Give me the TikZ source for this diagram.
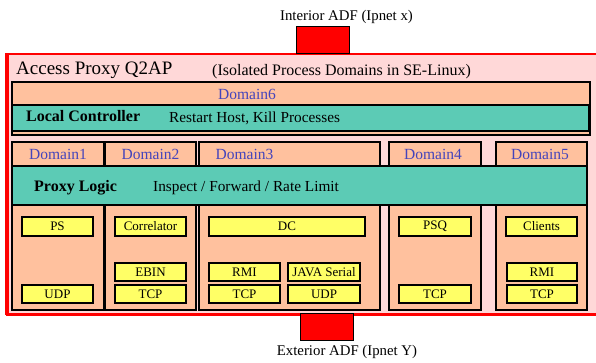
\documentclass[tikz,border=0pt]{standalone}
\usepackage{fontspec}
\setmainfont{Liberation Serif}
\definecolor{pinkbg}{HTML}{FFD8D8}
\definecolor{peach}{HTML}{FFC19E}
\definecolor{tealbar}{HTML}{5CCBB5}
\definecolor{yel}{HTML}{FFFF66}
\definecolor{dblue}{HTML}{4444BB}
\tikzset{
  framebox/.style={draw=black, line width=1.6pt, inner sep=0pt},
  domainbox/.style={framebox, fill=peach, minimum height=168pt},
  barbox/.style={framebox, fill=tealbar},
  modbox/.style={draw=black, line width=1.5pt, fill=yel, inner sep=0pt,
    minimum height=18pt, font=\fontsize{13}{13}\selectfont},
  adfbox/.style={draw=black, line width=1pt, fill=red, inner sep=0pt,
    minimum width=53pt, minimum height=27pt},
  domlabel/.style={anchor=base, text=dblue, inner sep=0pt,
    font=\fontsize{15.5}{15.5}\selectfont},
  bartitle/.style={anchor=base west, inner sep=0pt,
    font=\fontsize{16}{16}\selectfont\bfseries},
  bartext/.style={anchor=base west, inner sep=0pt,
    font=\fontsize{15.3}{15.3}\selectfont},
  caption/.style={anchor=base, inner sep=0pt,
    font=\fontsize{14.8}{14.8}\selectfont}
}
\begin{document}
\begin{tikzpicture}[x=1pt,y=-1pt]
\useasboundingbox (0,0) rectangle (596,362);
\clip (0,0) rectangle (596,362);

% access proxy frame
\fill[pinkbg] (6,54) rectangle (602,315);
\draw[red, line width=1.2pt] (6,54) rectangle (602,314.5);
\draw[red, line width=3pt] (7.5,54) -- (7.5,314) -- (602,314);
\node[anchor=base west, inner sep=0pt, font=\fontsize{19}{19}\selectfont]
  (title) at (16,74) {Access Proxy Q2AP};
\node[anchor=base west, inner sep=0pt, font=\fontsize{16}{16}\selectfont]
  (subtitle) at (212,75) {(Isolated Process Domains in SE-Linux)};

% interior / exterior ADF
\node[adfbox] (iadf) at (322.5,39.5) {};
\node[caption] (icap) at (346.5,20) {Interior ADF (Ipnet x)};
\node[adfbox] (eadf) at (326.5,326.5) {};
\node[caption] (ecap) at (347,355) {Exterior ADF (Ipnet Y)};

% domain 6 with the local controller
\node[framebox, fill=peach, minimum width=578pt, minimum height=53pt] (d6) at (301,108.5) {};
\node[barbox, minimum width=577pt, minimum height=26pt] (lc) at (300.5,118) {};
\node[domlabel] (d6l) at (247,99) {Domain6};
\node[bartitle] (lct) at (26,121.5) {Local Controller};
\node[bartext] (lcx) at (169,122) {Restart Host, Kill Processes};

% domain columns
\node[domainbox, minimum width=92pt] (d1) at (58,226) {};
\node[domainbox, minimum width=91pt] (d2) at (150.5,226) {};
\node[domainbox, minimum width=181pt] (d3) at (289.5,226) {};
\node[domainbox, minimum width=92pt] (d4) at (435,226) {};
\node[domainbox, minimum width=91pt] (d5) at (541.5,226) {};
\node[domlabel] (d1l) at (58,159) {Domain1};
\node[domlabel] (d2l) at (150.5,159) {Domain2};
\node[domlabel] (d3l) at (244.5,159) {Domain3};
\node[domlabel] (d4l) at (433,159) {Domain4};
\node[domlabel] (d5l) at (540,159) {Domain5};

% proxy logic bar across the domains
\node[barbox, minimum width=575pt, minimum height=39pt] (pl) at (299.5,185.5) {};
\node[bartitle] (plt) at (34,191) {Proxy Logic};
\node[bartext] (plx) at (153,191) {Inspect / Forward / Rate Limit};

% modules
\node[modbox, minimum width=71pt, minimum height=19pt] (ps) at (57.5,226.5) {PS};
\node[modbox, minimum width=71pt] (udpa) at (57.5,294) {UDP};
\node[modbox, minimum width=71pt, minimum height=19pt] (corr) at (150.5,226.5) {Correlator};
\node[modbox, minimum width=71pt] (ebin) at (150.5,272) {EBIN};
\node[modbox, minimum width=71pt] (tcpb) at (150.5,294) {TCP};
\node[modbox, minimum width=156pt, minimum height=19pt] (dc) at (287,226.5) {DC};
\node[modbox, minimum width=71pt] (rmic) at (244.5,272) {RMI};
\node[modbox, minimum width=72pt] (java) at (324,272) {JAVA Serial};
\node[modbox, minimum width=71pt] (tcpc) at (244.5,294) {TCP};
\node[modbox, minimum width=72pt] (udpc) at (324,294) {UDP};
\node[modbox, minimum width=72pt, minimum height=19pt] (psq) at (435,226.5) {PSQ};
\node[modbox, minimum width=72pt] (tcpd) at (435,294) {TCP};
\node[modbox, minimum width=71pt, minimum height=19pt] (cli) at (541.5,226.5) {Clients};
\node[modbox, minimum width=70pt] (rmie) at (542,272) {RMI};
\node[modbox, minimum width=70pt] (tcpe) at (542,294) {TCP};
\end{tikzpicture}
\end{document}
